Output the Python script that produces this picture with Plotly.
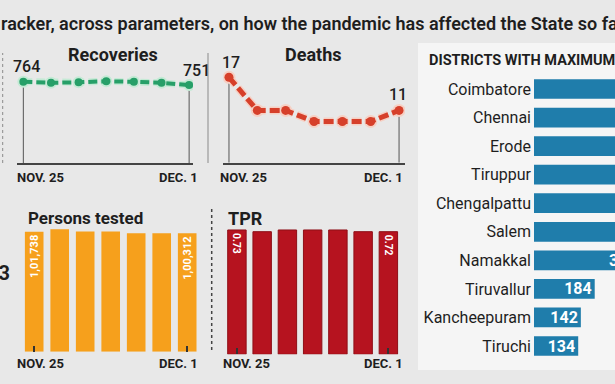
import plotly.graph_objects as go

# ---------------- data ----------------
dates = ["NOV. 25", "NOV. 26", "NOV. 27", "NOV. 28", "NOV. 29", "NOV. 30", "DEC. 1"]
recoveries = [764, 760, 762, 766, 764, 760, 751]
deaths = [17, 11, 11, 9, 9, 9, 11]
persons_tested = [101738, 103700, 101900, 101800, 100400, 100500, 100312]
tpr = [0.73, 0.72, 0.73, 0.73, 0.73, 0.72, 0.72]
districts = ["Coimbatore", "Chennai", "Erode", "Tiruppur", "Chengalpattu",
             "Salem", "Namakkal", "Tiruvallur", "Kancheepuram", "Tiruchi"]
active_cases = [1180, 1120, 720, 640, 560, 480, 320, 184, 142, 134]

headline = "racker, across parameters, on how the pandemic has affected the State so far"
district_title = "DISTRICTS WITH MAXIMUM ACTIVE CASES"
left_cut_number = "43"

# ---------------- helpers ----------------
W, H = 615, 384
def X(p): return p / W
def Y(p): return 1 - p / H

def indian(n):
    s = str(int(n))
    if len(s) <= 3:
        return s
    head, tail = s[:-3], s[-3:]
    parts = []
    while len(head) > 2:
        parts.insert(0, head[-2:])
        head = head[:-2]
    if head:
        parts.insert(0, head)
    return ",".join(parts) + "," + tail

BG = "#e8e8e8"
CARD = "#f5f5f5"
DARK = "#1e1e1e"
GREEN = "#279f68"
GREEN_HALO = "#c4ead5"
RED = "#d6402b"
RED_HALO = "#f6d0c4"
ORANGE = "#f6a01c"
CRIMSON = "#b6131f"
BLUE = "#1f7dab"
FONT = "Roboto"
DIST_XMAX = 245.5

fig = go.Figure()

# ---------------- Recoveries ----------------
rec_lo = 443
fig.add_trace(go.Scatter(
    x=[dates[0], dates[0], None, dates[-1], dates[-1]],
    y=[rec_lo, recoveries[0], None, rec_lo, recoveries[-1]],
    mode="lines", line=dict(color="#555", width=1), xaxis="x", yaxis="y",
    hoverinfo="skip", showlegend=False))
fig.add_trace(go.Scatter(
    x=dates, y=recoveries, mode="lines+markers", xaxis="x", yaxis="y",
    line=dict(color=GREEN_HALO, width=7, dash="9px,4px"),
    marker=dict(size=12, color=GREEN_HALO), showlegend=False, hoverinfo="skip"))
fig.add_trace(go.Scatter(
    x=dates, y=recoveries, mode="lines+markers", xaxis="x", yaxis="y",
    line=dict(color=GREEN, width=4, dash="9px,4px"),
    marker=dict(size=8, color=GREEN), showlegend=False))

# ---------------- Deaths ----------------
d_lo = 1.54
fig.add_trace(go.Scatter(
    x=[dates[0], dates[0], None, dates[-1], dates[-1]],
    y=[d_lo, deaths[0], None, d_lo, deaths[-1]],
    mode="lines", line=dict(color="#555", width=1), xaxis="x2", yaxis="y2",
    hoverinfo="skip", showlegend=False))
fig.add_trace(go.Scatter(
    x=dates, y=deaths, mode="lines+markers", xaxis="x2", yaxis="y2",
    line=dict(color=RED_HALO, width=8, dash="10px,4px"),
    marker=dict(size=13, color=RED_HALO), showlegend=False, hoverinfo="skip"))
fig.add_trace(go.Scatter(
    x=dates, y=deaths, mode="lines+markers", xaxis="x2", yaxis="y2",
    line=dict(color=RED, width=5, dash="10px,4px"),
    marker=dict(size=9, color=RED), showlegend=False))

# ---------------- Persons tested ----------------
pt_text = [indian(v) if i in (0, len(persons_tested) - 1) else "" for i, v in enumerate(persons_tested)]
fig.add_trace(go.Bar(
    x=dates, y=persons_tested, xaxis="x3", yaxis="y3", width=0.73,
    marker=dict(color=ORANGE, line=dict(width=0)),
    text=pt_text, textposition="inside", insidetextanchor="end", textangle=-90,
    textfont=dict(color="white", size=14, family=FONT, weight="bold"),
    showlegend=False))

# ---------------- TPR ----------------
tpr_text = [f"{v:.2f}" if i in (0, len(tpr) - 1) else "" for i, v in enumerate(tpr)]
fig.add_trace(go.Bar(
    x=dates, y=tpr, xaxis="x4", yaxis="y4", width=0.73,
    marker=dict(color=CRIMSON, line=dict(width=1, color="#8e0f17")),
    text=tpr_text, textposition="inside", insidetextanchor="end", textangle=90,
    textfont=dict(color="white", size=15, family=FONT, weight="bold"),
    showlegend=False))

# ---------------- Districts ----------------
fig.add_trace(go.Bar(
    y=districts, x=active_cases, orientation="h", xaxis="x5", yaxis="y5", width=0.69,
    marker=dict(color=BLUE, line=dict(width=0)),
    text=[str(v) for v in active_cases],
    textposition="inside", insidetextanchor="end", textangle=0, constraintext="none",
    textfont=dict(color="white", size=16, family=FONT, weight="bold"),
    cliponaxis=True, showlegend=False))

noaxis = dict(showgrid=False, zeroline=False, showticklabels=False, ticks="")
cat = dict(type="category", categoryorder="array", categoryarray=dates)

layout = dict(
    width=W, height=H, autosize=False,
    margin=dict(l=0, r=0, t=0, b=0),
    paper_bgcolor=BG, plot_bgcolor="rgba(0,0,0,0)",
    font=dict(family=FONT, color=DARK),
    showlegend=False,
    xaxis=dict(domain=[X(16.7), X(193)], range=[-0.24, 6.14], **cat,
               showline=True, linecolor="#444", linewidth=1.5, anchor="y",
               showgrid=False, zeroline=False, showticklabels=False, ticks=""),
    yaxis=dict(domain=[Y(163.3), Y(50)], range=[rec_lo, 889], anchor="x", **noaxis),
    xaxis2=dict(domain=[X(223.3), X(405)], range=[-0.2, 6.21], **cat,
                showline=True, linecolor="#444", linewidth=1.5, anchor="y2",
                showgrid=False, zeroline=False, showticklabels=False, ticks=""),
    yaxis2=dict(domain=[Y(162.7), Y(50)], range=[d_lo, 21.94], anchor="x2", **noaxis),
    xaxis3=dict(domain=[X(21.45), X(199.95)], range=[-0.5, 6.5], **cat,
                anchor="y3", showgrid=False, zeroline=False, showticklabels=False,
                ticks="inside", tickvals=[dates[0], dates[-1]], ticklen=6,
                tickcolor="#333", tickwidth=1.5, showline=False),
    yaxis3=dict(domain=[Y(351.7), Y(200)], range=[0, 128600], anchor="x3", **noaxis),
    xaxis4=dict(domain=[X(224.3), X(401)], range=[-0.5, 6.5], **cat,
                anchor="y4", showgrid=False, zeroline=False, showticklabels=False,
                ticks="inside", tickvals=[dates[0], dates[-1]], ticklen=6,
                tickcolor="#333", tickwidth=1.5, showline=False),
    yaxis4=dict(domain=[Y(354.3), Y(200)], range=[0, 0.906], anchor="x4", **noaxis),
    xaxis5=dict(domain=[X(534), 1.0], range=[0, DIST_XMAX], anchor="y5", type="linear",
                autorange=False, **noaxis),
    yaxis5=dict(domain=[Y(360.3), Y(74.7)], range=[len(districts) - 0.5, -0.5],
                type="category", categoryorder="array", categoryarray=districts,
                anchor="x5", showgrid=False, zeroline=False,
                showticklabels=True, ticks="", ticklabelstandoff=2,
                tickfont=dict(size=16, color=DARK, family=FONT)),
)
fig.update_layout(**layout)

shapes = [
    dict(type="rect", xref="paper", yref="paper", x0=X(418), x1=X(640), y0=Y(370), y1=Y(43),
         fillcolor=CARD, line=dict(width=0), layer="below"),
    dict(type="line", xref="paper", yref="paper", x0=X(2.7), x1=X(2.7), y0=Y(163), y1=Y(53),
         line=dict(color="#8a8a8a", width=1, dash="dot")),
    dict(type="line", xref="paper", yref="paper", x0=X(208), x1=X(208), y0=Y(163), y1=Y(53),
         line=dict(color="#8a8a8a", width=1)),
    dict(type="line", xref="paper", yref="paper", x0=X(211.7), x1=X(211.7), y0=Y(350), y1=Y(208),
         line=dict(color="#444", width=1.5, dash="dot")),
]
fig.update_layout(shapes=shapes)

def ann(text, x, y, size, xanchor="center", weight="normal", xref="paper", yref="paper",
        xshift=0, yshift=0, color=DARK):
    return dict(text=text, x=x, y=y, xref=xref, yref=yref, xanchor=xanchor, yanchor="middle",
                showarrow=False, xshift=xshift, yshift=yshift,
                font=dict(size=size, family=FONT, color=color, weight=weight))

annotations = [
    ann(headline, X(-1), Y(23), 18, xanchor="left", weight=600),
    ann("Recoveries", X(113), Y(54), 18, weight="bold"),
    ann("Deaths", X(313), Y(54), 18, weight="bold"),
    ann("Persons tested", X(85), Y(217.5), 17, weight="bold"),
    ann("TPR", X(226), Y(218), 18, xanchor="left", weight="bold"),
    ann(left_cut_number, X(12), Y(273), 20, xanchor="right", weight="bold"),
    ann(district_title, X(426.5), Y(60), 14.5, xanchor="left", weight="bold"),
    ann(str(recoveries[0]), dates[0], recoveries[0], 16, xref="x", yref="y", yshift=15, xshift=3, weight=500),
    ann(str(recoveries[-1]), dates[-1], recoveries[-1], 16, xref="x", yref="y", yshift=15, xshift=7, weight=500),
    ann(str(deaths[0]), dates[0], deaths[0], 16, xref="x2", yref="y2", yshift=15, xshift=2, weight=500),
    ann(str(deaths[-1]), dates[-1], deaths[-1], 16, xref="x2", yref="y2", yshift=16, xshift=-1, weight=500),
]
for xr, y_px, l_shift, r_shift in [("x", 177, -8, 11), ("x2", 177, -11, 6),
                                   ("x3", 363, -19, 13), ("x4", 363, -16, 17)]:
    annotations.append(ann(dates[0], dates[0], Y(y_px), 13, xanchor="left", weight="bold",
                           xref=xr, xshift=l_shift))
    annotations.append(ann(dates[-1], dates[-1], Y(y_px), 13, xanchor="right", weight="bold",
                           xref=xr, xshift=r_shift))
fig.update_layout(annotations=annotations)

fig.write_html("out.html", config={"displayModeBar": False},
               post_script="document.body.style.margin='0';document.body.style.overflow='hidden';")
